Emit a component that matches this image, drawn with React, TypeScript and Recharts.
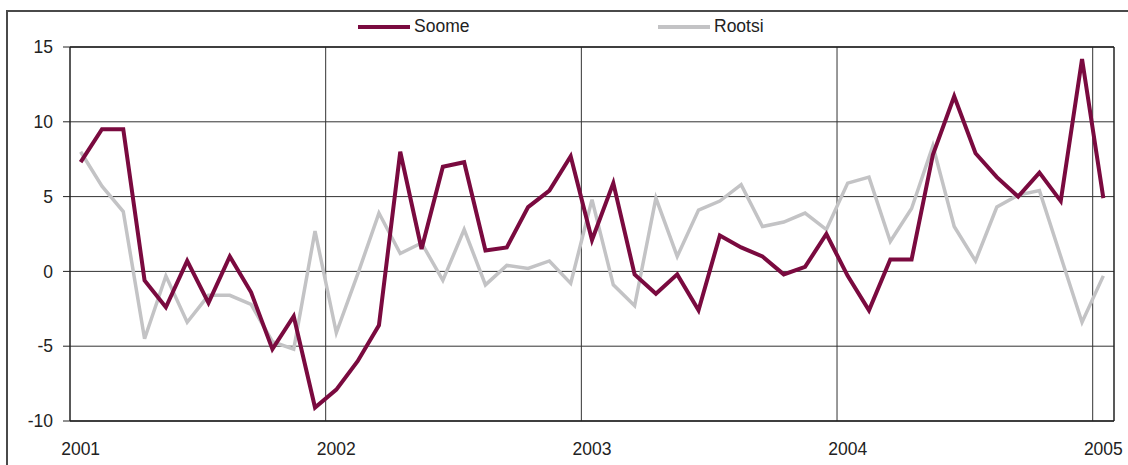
import React from "react";
import {
  LineChart,
  Line,
  XAxis,
  YAxis,
  CartesianGrid,
  ReferenceLine,
} from "recharts";

const years = ["2001", "2002", "2003", "2004", "2005"];
const monthNames = ["01", "02", "03", "04", "05", "06", "07", "08", "09", "10", "11", "12"];

// monthly categories, Jan 2001 .. Jan 2005
const months: string[] = years
  .slice(0, 4)
  .flatMap((y) => monthNames.map((m) => `${y}-${m}`))
  .concat(["2005-01"]);

const soome = [
  7.3, 9.5, 9.5, -0.6, -2.4, 0.7, -2.1, 1.0, -1.4, -5.2, -3.0, -9.1,
  -7.9, -6.0, -3.6, 8.0, 1.5, 7.0, 7.3, 1.4, 1.6, 4.3, 5.4, 7.7,
  2.1, 5.9, -0.2, -1.5, -0.2, -2.6, 2.4, 1.6, 1.0, -0.2, 0.3, 2.5,
  -0.3, -2.6, 0.8, 0.8, 7.8, 11.7, 7.9, 6.3, 5.0, 6.6, 4.7, 14.2,
  4.9,
];

const rootsi = [
  8.0, 5.7, 4.0, -4.5, -0.3, -3.4, -1.6, -1.6, -2.2, -4.7, -5.2, 2.7,
  -4.1, -0.2, 3.9, 1.2, 1.9, -0.6, 2.8, -0.9, 0.4, 0.2, 0.7, -0.8,
  4.8, -0.9, -2.3, 4.9, 1.0, 4.1, 4.7, 5.8, 3.0, 3.3, 3.9, 2.8,
  5.9, 6.3, 2.0, 4.2, 8.4, 3.0, 0.7, 4.3, 5.1, 5.4, 1.0, -3.4,
  -0.3,
];

const yTicks = [-10, -5, 0, 5, 10, 15];
const yearTicks = [0, 12, 24, 36, 48];

const data = months.map((m, i) => ({
  idx: i,
  month: m,
  Soome: soome[i],
  Rootsi: rootsi[i],
}));

const FONT = '"Liberation Sans", Arial, sans-serif';
const SOOME_COLOR = "#7a0a3f";
const ROOTSI_COLOR = "#c3c3c5";

function LegendItem({ color, label, left }: { color: string; label: string; left: number }) {
  return (
    <div
      style={{
        position: "absolute",
        left,
        top: 16,
        display: "flex",
        alignItems: "center",
        fontFamily: FONT,
        fontSize: 17.5,
        color: "#222",
      }}
    >
      <span style={{ display: "inline-block", width: 52, height: 4, background: color, marginRight: 4 }} />
      <span>{label}</span>
    </div>
  );
}

export default function App() {
  return (
    <div style={{ position: "absolute", left: 0, top: 0, width: 1128, height: 465, background: "#fff", overflow: "hidden" }}>
      <div
        style={{
          position: "absolute",
          left: 6,
          top: 10,
          width: 1200,
          height: 500,
          borderLeft: "2px solid #4a4a4a",
          borderTop: "2px solid #4a4a4a",
        }}
      />
      <LegendItem color={SOOME_COLOR} label="Soome" left={358} />
      <LegendItem color={ROOTSI_COLOR} label="Rootsi" left={658} />
      <div style={{ position: "absolute", left: 0, top: 0 }}>
        <LineChart width={1128} height={465} data={data} margin={{ top: 47, right: 14, bottom: 0, left: 0 }}>
          <CartesianGrid vertical={false} stroke="#333" strokeWidth={1} />
          <XAxis
            type="number"
            dataKey="idx"
            domain={[-0.5, 48.5]}
            ticks={yearTicks}
            tickFormatter={(v: number) => years[v / 12]}
            interval={0}
            height={44}
            tickLine={false}
            tickSize={0}
            tickMargin={22}
            axisLine={{ stroke: "#222", strokeWidth: 1.5 }}
            tick={{ fill: "#222", fontSize: 17.5, fontFamily: FONT }}
          />
          <YAxis
            domain={[-10, 15]}
            ticks={yTicks}
            interval={0}
            width={70}
            tickSize={7}
            tickMargin={10}
            axisLine={{ stroke: "#222", strokeWidth: 1.5 }}
            tickLine={{ stroke: "#222" }}
            tick={{ fill: "#222", fontSize: 17.5, fontFamily: FONT }}
          />
          {yearTicks.slice(1).map((t) => (
            <ReferenceLine key={t} x={t - 0.5} stroke="#333" strokeWidth={1} ifOverflow="visible" />
          ))}
          <ReferenceLine x={48.5} stroke="#222" strokeWidth={1.5} ifOverflow="visible" />
          <ReferenceLine y={15} stroke="#222" strokeWidth={1.5} ifOverflow="visible" />
          <Line
            type="linear"
            dataKey="Rootsi"
            stroke={ROOTSI_COLOR}
            strokeWidth={3.5}
            dot={false}
            isAnimationActive={false}
          />
          <Line
            type="linear"
            dataKey="Soome"
            stroke={SOOME_COLOR}
            strokeWidth={4}
            dot={false}
            isAnimationActive={false}
          />
        </LineChart>
      </div>
    </div>
  );
}
